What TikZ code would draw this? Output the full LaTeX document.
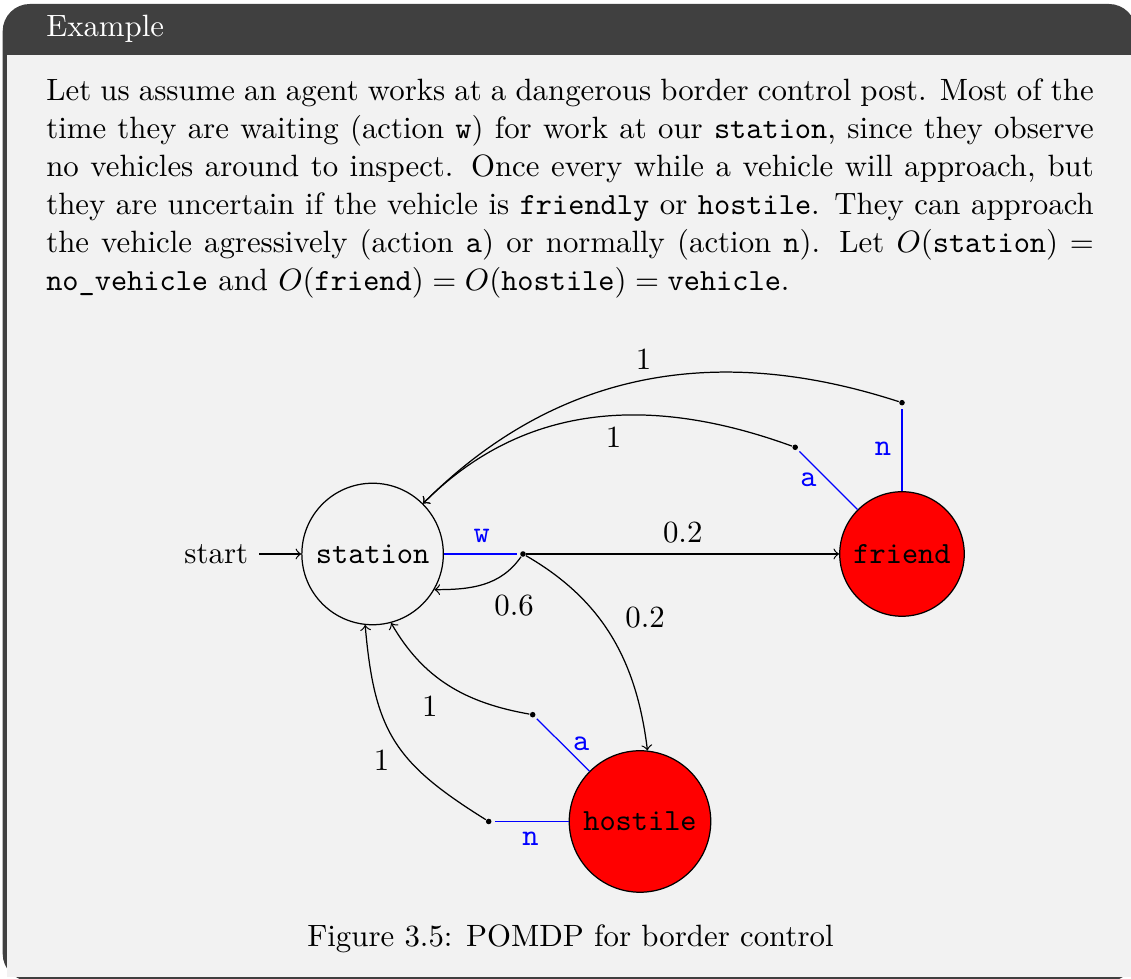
\documentclass[tikz,border=0pt]{standalone}
\begin{document}
\begin{tikzpicture}[x=0.3244pt, y=0.3244pt,
    st/.style={circle, draw, font=\ttfamily, inner sep=0pt, minimum size=45.9pt},
    veh/.style={st, fill=red},
    obs/.style={circle, fill, inner sep=0pt, minimum size=1.8pt},
    act/.style={blue, shorten >=0.8pt}]
    \useasboundingbox (0,0) rectangle (1131,979);
    % Box
    \fill[black!75, rounded corners=8.8] (2.7,-2) rectangle (1136,975);
    \fill[black!5] (7.1,924) -- (7.1,2.4) -- (1131.6,2.4) -- (1131.6,924) -- cycle;
    \node[anchor=base west, text=white, inner sep=0pt] (title) at (45.7,942) {Example};
    % Text
    \node[anchor=base west, inner sep=0pt, text width=339.8pt, align=justify,
        font={\linespread{1.0275}\selectfont}] (intro) at (45.7,878.3)
        {Let us assume an agent works at a dangerous border control post. Most of the\linebreak
        time they are waiting (action \texttt{w}) for work at our \texttt{station}, since they observe\linebreak
        no vehicles around to inspect. Once every while a vehicle will approach, but\linebreak
        they are uncertain if the vehicle is \texttt{friendly} or \texttt{hostile}. They can approach\linebreak
        the vehicle agressively (action \texttt{a}) or normally (action \texttt{n}). Let $O(\texttt{station}) =$\linebreak
        \texttt{no\_vehicle} and $O(\texttt{friend}) = O(\texttt{hostile}) = \texttt{vehicle}$.};
    % States
    \node (start) at (216.3,425) {start};
    \node[st] (station) at (372.6,425) {station};
    \node[veh, minimum size=40.4pt] (friend) at (902,425) {friend};
    \node[veh] (hostile) at (640,157.5) {hostile};
    % Action points
    \node[obs] (w) at (523,425) {};
    \node[obs] (fa) at (795.2,531.7) {};
    \node[obs] (fn) at (902,576.3) {};
    \node[obs] (ha) at (532.7,264.3) {};
    \node[obs] (hn) at (488.7,157.5) {};
    % Actions
    \draw[->] (start) -- (station);
    \draw[act] (station) -- node[above] {\texttt{w}} (w);
    \draw[act] (friend) -- node[left] {\texttt{a}} (fa);
    \draw[act] (friend) -- node[left] {\texttt{n}} (fn);
    \draw[act] (hostile) -- node[right] {\texttt{a}} (ha);
    \draw[act] (hostile) -- node[below] {\texttt{n}} (hn);
    % Transitions
    \draw[->] (w) -- node[above] {0.2} (friend);
    \draw[->] (w) to[out=235, in=0] node[below right] {0.6} (station.-30);
    \draw[->] (w) to[out=-30, in=97] node[pos=0.4, right=5pt] {0.2} (hostile.84);
    \draw[->] (fa) to[out=160, in=45] node[pos=0.45, below] {1} (station);
    \draw[->] (fn) to[out=162, in=45] node[above] {1} (station);
    \draw[->] (ha) to[out=170, in=-60] node[below left] {1} (station.-75);
    \draw[->] (hn) to[out=148, in=-85, looseness=1.2] node[pos=0.38, left=3pt] {1} (station.-96);
    % Caption
    \node[anchor=base] (caption) at (570.4,32.3) {Figure 3.5: POMDP for border control};
\end{tikzpicture}
\end{document}
